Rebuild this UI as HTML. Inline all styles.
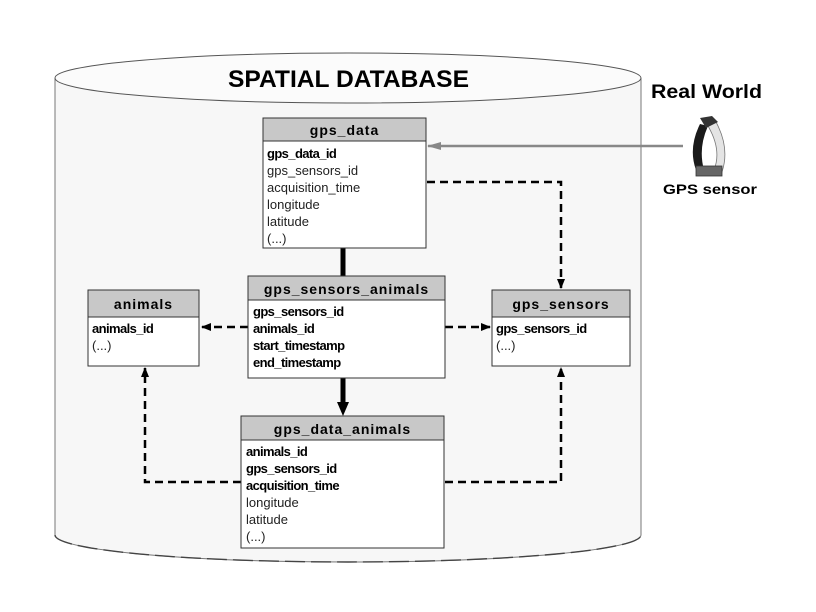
<!DOCTYPE html>
<html><head><meta charset="utf-8"><style>
html,body{margin:0;padding:0;background:#fff;}
svg{display:block;}
text{font-family:"Liberation Sans",sans-serif;}
.h{font-weight:bold;font-size:14px;letter-spacing:1px;}
.b{font-weight:bold;font-size:13px;letter-spacing:-0.6px;}
.n{font-size:13px;fill:#222;}
</style></head><body>
<svg width="816" height="612" viewBox="0 0 816 612" xmlns="http://www.w3.org/2000/svg">
<defs>
<marker id="a" markerWidth="10" markerHeight="10" refX="9" refY="5" orient="auto" markerUnits="userSpaceOnUse"><path d="M0,1 L10,5 L0,9 Z" fill="#000"/></marker>
<marker id="g" markerWidth="14" markerHeight="10" refX="13" refY="5" orient="auto" markerUnits="userSpaceOnUse"><path d="M0,1 L14,5 L0,9 Z" fill="#888"/></marker>
</defs>
<path d="M55,78 L55,535 A293,27 0 0 0 641,535 L641,78" fill="#f7f7f7" stroke="#777" stroke-width="1"/>
<path d="M55,535 A293,27 0 0 0 641,535" fill="none" stroke="#444" stroke-width="1.4" stroke-dasharray="20,6"/>
<ellipse cx="348" cy="78" rx="293" ry="25" fill="#fbfbfb" stroke="#555" stroke-width="1"/>
<text x="228" y="87" font-size="24" font-weight="bold" textLength="241" lengthAdjust="spacingAndGlyphs">SPATIAL DATABASE</text>

<text x="651" y="98" font-size="19" font-weight="bold" textLength="111" lengthAdjust="spacingAndGlyphs">Real World</text>
<g>
<path d="M700,124 Q688,148 696,170 L704,170 Q698,148 708,126 Z" fill="#1a1a1a"/>
<path d="M708,126 Q722,150 714,170 L722,172 Q730,148 716,122 Z" fill="#e4e4e4" stroke="#777" stroke-width="0.8"/>
<path d="M700,118 L712,116 L718,122 L706,128 Z" fill="#333"/>
<rect x="696" y="166" width="26" height="10" fill="#666" stroke="#333" stroke-width="0.8"/>
</g>
<text x="663" y="194" font-size="14" font-weight="bold" textLength="94" lengthAdjust="spacingAndGlyphs">GPS sensor</text>

<line x1="683" y1="146" x2="428" y2="146" stroke="#888" stroke-width="2.5" marker-end="url(#g)"/>
<g stroke="#000" stroke-width="2.5" fill="none" stroke-dasharray="8,5">
<polyline points="427,182 561,182 561,288" marker-end="url(#a)"/>
<line x1="248" y1="327" x2="202" y2="327" marker-end="url(#a)"/>
<line x1="445" y1="327" x2="490" y2="327" marker-end="url(#a)"/>
<polyline points="241,482 145,482 145,368" marker-end="url(#a)"/>
<polyline points="445,482 561,482 561,368" marker-end="url(#a)"/>
</g>
<line x1="343" y1="248" x2="343" y2="276" stroke="#000" stroke-width="5"/>
<line x1="343" y1="378" x2="343" y2="405" stroke="#000" stroke-width="5"/>
<path d="M337,402 L349,402 L343,416 Z" fill="#000"/>

<rect x="263" y="118" width="163" height="130" fill="#fff" stroke="#333"/>
<rect x="263" y="118" width="163" height="23" fill="#c8c8c8" stroke="#333"/>
<text class="h" x="344.5" y="135" text-anchor="middle">gps_data</text>
<text class="b" x="267" y="158">gps_data_id</text>
<text class="n" x="267" y="175">gps_sensors_id</text>
<text class="n" x="267" y="192">acquisition_time</text>
<text class="n" x="267" y="209">longitude</text>
<text class="n" x="267" y="226">latitude</text>
<text class="n" x="267" y="243">(...)</text>

<rect x="248" y="276" width="197" height="102" fill="#fff" stroke="#333"/>
<rect x="248" y="276" width="197" height="24" fill="#c8c8c8" stroke="#333"/>
<text class="h" x="346.5" y="294" text-anchor="middle">gps_sensors_animals</text>
<text class="b" x="253" y="316">gps_sensors_id</text>
<text class="b" x="253" y="333">animals_id</text>
<text class="b" x="253" y="350">start_timestamp</text>
<text class="b" x="253" y="367">end_timestamp</text>

<rect x="88" y="290" width="111" height="76" fill="#fff" stroke="#333"/>
<rect x="88" y="290" width="111" height="27" fill="#c8c8c8" stroke="#333"/>
<text class="h" x="143.5" y="309" text-anchor="middle">animals</text>
<text class="b" x="92" y="333">animals_id</text>
<text class="n" x="92" y="350">(...)</text>

<rect x="492" y="290" width="138" height="76" fill="#fff" stroke="#333"/>
<rect x="492" y="290" width="138" height="27" fill="#c8c8c8" stroke="#333"/>
<text class="h" x="561" y="309" text-anchor="middle">gps_sensors</text>
<text class="b" x="496" y="333">gps_sensors_id</text>
<text class="n" x="496" y="350">(...)</text>

<rect x="241" y="416" width="203" height="132" fill="#fff" stroke="#333"/>
<rect x="241" y="416" width="203" height="24" fill="#c8c8c8" stroke="#333"/>
<text class="h" x="342.5" y="434" text-anchor="middle">gps_data_animals</text>
<text class="b" x="246" y="456">animals_id</text>
<text class="b" x="246" y="473">gps_sensors_id</text>
<text class="b" x="246" y="490">acquisition_time</text>
<text class="n" x="246" y="507">longitude</text>
<text class="n" x="246" y="524">latitude</text>
<text class="n" x="246" y="541">(...)</text>
</svg>
</body></html>
